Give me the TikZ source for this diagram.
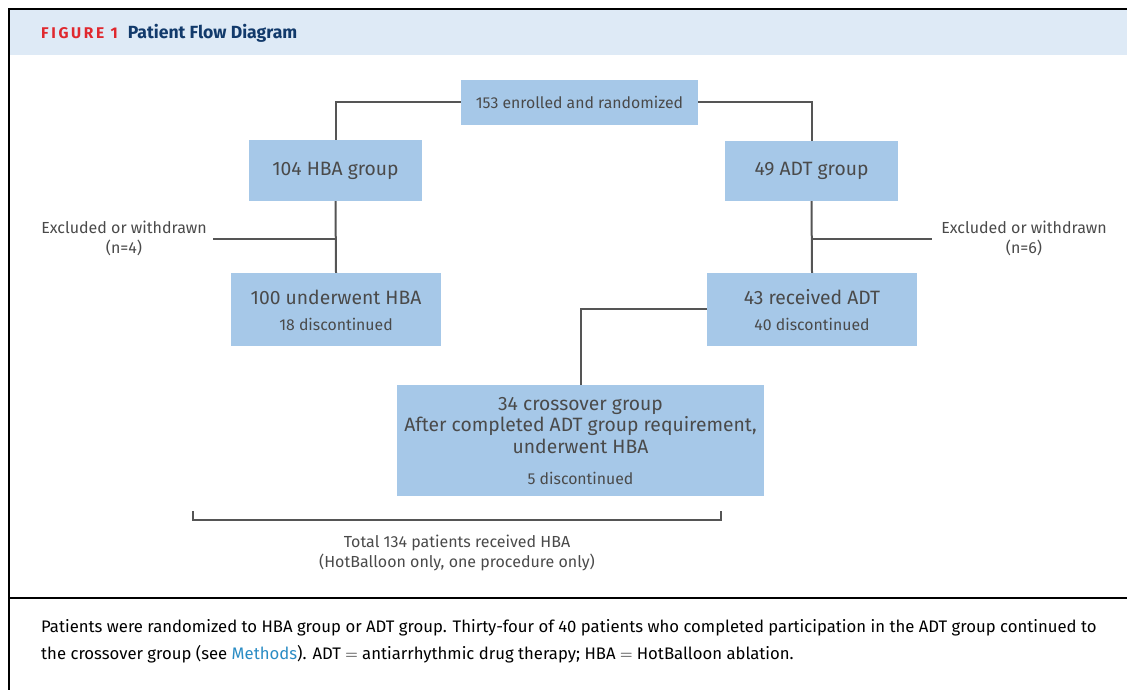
\documentclass[tikz,border=0pt]{standalone}
\usepackage{fontspec}
\setmainfont{Fira Sans}
\definecolor{boxblue}{HTML}{A6C8E8}
\definecolor{hdrblue}{HTML}{DEEAF6}
\definecolor{txt}{HTML}{4A4A4A}
\definecolor{linegray}{HTML}{555555}
\definecolor{figred}{HTML}{E0282E}
\definecolor{navy}{HTML}{123A6B}
\definecolor{linkblue}{HTML}{2A8CC4}
\tikzset{
  flowbox/.style={fill=boxblue, draw=none, inner sep=0pt, text=txt, align=center, font=\fontsize{19.3}{22}\selectfont},
  bigtxt/.style={text=txt, font=\fontsize{19.3}{22}\selectfont},
  smalltxt/.style={text=txt, font=\fontsize{15.8}{18}\selectfont},
  conn/.style={draw=linegray, line width=2pt},
  lbl/.style={text=txt, align=center, font=\fontsize{16}{20}\selectfont},
}
\begin{document}
\begin{tikzpicture}[x=1pt,y=-1pt]
\useasboundingbox (0,0) rectangle (1127,690);
% frame
\fill[hdrblue] (9,9) rectangle (1127,55);
\draw[black, line width=2pt] (9,690) -- (9,9) -- (1127,9);
\draw[black, line width=1.6pt] (9,598) -- (1127,598);
\node[anchor=west, inner sep=0pt, font=\bfseries] (title) at (41,33)
  {\textcolor{figred}{\fontsize{15.5}{16}\selectfont\addfontfeature{LetterSpace=17}FIGURE 1}\hspace{10pt}\textcolor{navy}{\fontsize{17.6}{18}\selectfont Patient Flow Diagram}};

% boxes
\node[flowbox, minimum width=237pt, minimum height=45pt, font=\fontsize{15.8}{18}\selectfont] (enr) at (579.5,102.5) {153 enrolled and randomized};
\node[flowbox, minimum width=173pt, minimum height=61pt] (hba) at (335.5,170.5) {104 HBA group};
\node[flowbox, minimum width=173pt, minimum height=60pt] (adt) at (811.5,171) {49 ADT group};
\node[flowbox, minimum width=210pt, minimum height=73pt] (uhba) at (336,309.5) {};
\node[bigtxt] (uhbaA) at (336,297) {100 underwent HBA};
\node[smalltxt] (uhbaB) at (336,324.5) {18 discontinued};
\node[flowbox, minimum width=210pt, minimum height=73pt] (radt) at (812,309.5) {};
\node[bigtxt] (radtA) at (812,297) {43 received ADT};
\node[smalltxt] (radtB) at (812,324.5) {40 discontinued};
\node[flowbox, minimum width=367pt, minimum height=111pt] (cross) at (580.5,440.5) {};
\node[bigtxt, align=center, font=\fontsize{19.3}{21.5}\selectfont] (crossA) at (580.5,425.5) {34 crossover group\\After completed ADT group requirement,\\underwent HBA};
\node[smalltxt] (crossB) at (580.5,478.5) {5 discontinued};

% labels
\node[lbl] (exl) at (124,238) {Excluded or withdrawn\\(n=4)};
\node[lbl] (exr) at (1024,238) {Excluded or withdrawn\\(n=6)};
\node[lbl] (total) at (457,553) {Total 134 patients received HBA\\(HotBalloon only, one procedure only)};

% connectors
\coordinate (jl) at (335.5,239);
\coordinate (jr) at (811.5,239);
\coordinate (exlend) at (213,239);
\coordinate (exrend) at (932,239);
\draw[conn] (enr.west) -| (hba.north);
\draw[conn] (enr.east) -| (adt.north);
\draw[conn] (hba.south) -- (uhba.north);
\draw[conn] (adt.south) -- (radt.north);
\draw[conn] (exlend) -- (jl);
\draw[conn] (jr) -- (exrend);
\draw[conn] (radt.west |- 0,309) -| (cross.north -| 581,0);
\coordinate (bl) at (192.5,511);
\coordinate (br) at (721,511);
\draw[conn] (bl) -- ++(0,8.5) -| (br);

% caption
\node[anchor=north west, inner sep=0pt, text=black, align=left, font=\fontsize{16.7}{27}\selectfont] (cap) at (41,619)
  {Patients were randomized to HBA group or ADT group. Thirty-four of 40 patients who completed participation in the ADT group continued to\\
   the crossover group (see \textcolor{linkblue}{Methods}). ADT $=$ antiarrhythmic drug therapy; HBA $=$ HotBalloon ablation.};
\end{tikzpicture}
\end{document}
